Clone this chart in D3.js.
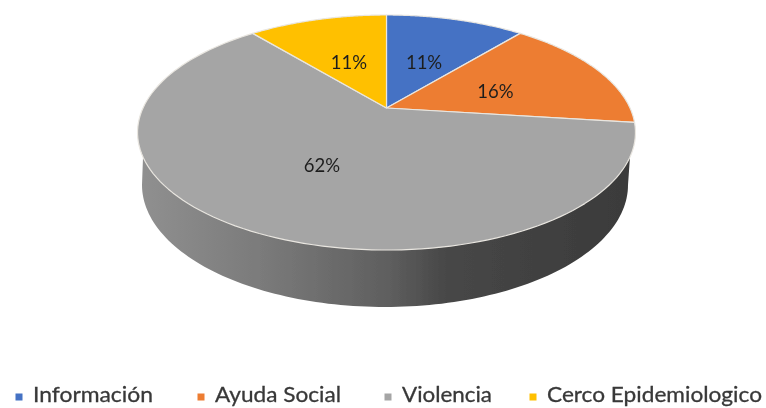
<!DOCTYPE html>
<html>
<head>
<meta charset="utf-8">
<script src="https://cdn.jsdelivr.net/npm/d3@7"></script>
<style>
  html, body { margin: 0; padding: 0; background: #fff; }
  svg { display: block; font-family: Lato, "Open Sans", sans-serif; }
</style>
</head>
<body>
<div id="chart"></div>
<script>
const categories = ['Información', 'Ayuda Social', 'Violencia', 'Cerco Epidemiologico'];
const values = [11, 16, 62, 11];
const labels = ['11%', '16%', '62%', '11%'];
const colors = ['#4472c4', '#ed7d31', '#a5a5a5', '#ffc000'];

const W = 766, H = 408;

const svg = d3.select('#chart').append('svg')
  .attr('width', W)
  .attr('height', H);

const defs = svg.append('defs');
defs.append('filter').attr('id', 'soft')
  .append('feGaussianBlur').attr('stdDeviation', 0.7);

const grad = defs.append('linearGradient').attr('id', 'side')
  .attr('gradientUnits', 'userSpaceOnUse')
  .attr('x1', 140).attr('x2', 635).attr('y1', 0).attr('y2', 0);
[[0, '#909090'], [0.25, '#7a7a7a'], [0.5, '#5f5f5f'], [0.62, '#474747'], [1, '#3a3a3a']]
  .forEach(([o, c]) => grad.append('stop').attr('offset', o).attr('stop-color', c));

// the tilted disc is a perspective projection of a unit circle,
// that is why the apex sits above the middle of the ellipse
const cx = 386.5, apexY = 108, a = 243.5, b = 112.4, k = -0.2085;
// outline of the lower edge
const wallX = 385, wallY = 185, wallRx = 243, wallRy = 122;

function topPoint(angle, rho = 1) {
  const u = Math.sin(angle) * rho;
  const v = -Math.cos(angle) * rho;
  const w = 1 + k * v;
  return [cx + a * u / w, apexY + b * v / w];
}
function wallPoint(angle) {
  return [wallX + wallRx * Math.sin(angle), wallY - wallRy * Math.cos(angle)];
}

const line = d3.line();
const steps = (a0, a1) => d3.range(0, 121).map(i => a0 + (a1 - a0) * i / 120);

const pie = d3.pie().sort(null)(values);
const g = svg.append('g').attr('filter', 'url(#soft)');

// side wall, joined to the rim just below its widest point
const rimJoin = Math.acos(-0.4);
g.append('path')
  .attr('d', line([
    ...steps(Math.PI / 2, Math.PI * 1.5).map(t => wallPoint(t)),
    topPoint(Math.PI * 2 - rimJoin),
    topPoint(rimJoin),
  ]) + 'Z')
  .attr('fill', 'url(#side)');

// top slices
g.selectAll('path.slice')
  .data(pie)
  .join('path')
  .attr('class', 'slice')
  .attr('d', d => line([[cx, apexY], ...steps(d.startAngle, d.endAngle).map(t => topPoint(t))]) + 'Z')
  .attr('fill', (d, i) => colors[i])
  .attr('stroke', '#e9e6e0')
  .attr('stroke-width', 1.2)
  .attr('stroke-linejoin', 'round');

// data labels
g.selectAll('text.pct')
  .data(pie)
  .join('text')
  .attr('class', 'pct')
  .attr('x', d => topPoint((d.startAngle + d.endAngle) / 2, 0.5)[0])
  .attr('y', d => topPoint((d.startAngle + d.endAngle) / 2, 0.5)[1] + 3)
  .attr('dy', '0.35em')
  .attr('text-anchor', 'middle')
  .attr('font-size', 18.5)
  .attr('fill', '#1f1f1f')
  .text((d, i) => labels[i]);

// legend
const legendX = [19, 201, 388, 533];
const legend = g.selectAll('g.legend')
  .data(categories)
  .join('g')
  .attr('class', 'legend')
  .attr('transform', (d, i) => `translate(${legendX[i]},397)`);

legend.append('rect')
  .attr('x', -3.5).attr('y', -3.5)
  .attr('width', 7).attr('height', 7)
  .attr('fill', (d, i) => colors[i]);

legend.append('text')
  .attr('x', 14)
  .attr('y', 5)
  .attr('font-size', 21.5)
  .attr('textLength', (d, i) => [120, 126, 90, 215][i])
  .attr('lengthAdjust', 'spacingAndGlyphs')
  .attr('fill', '#383838')
  .attr('stroke', '#383838')
  .attr('stroke-width', 0.3)
  .text(d => d);
</script>
</body>
</html>
